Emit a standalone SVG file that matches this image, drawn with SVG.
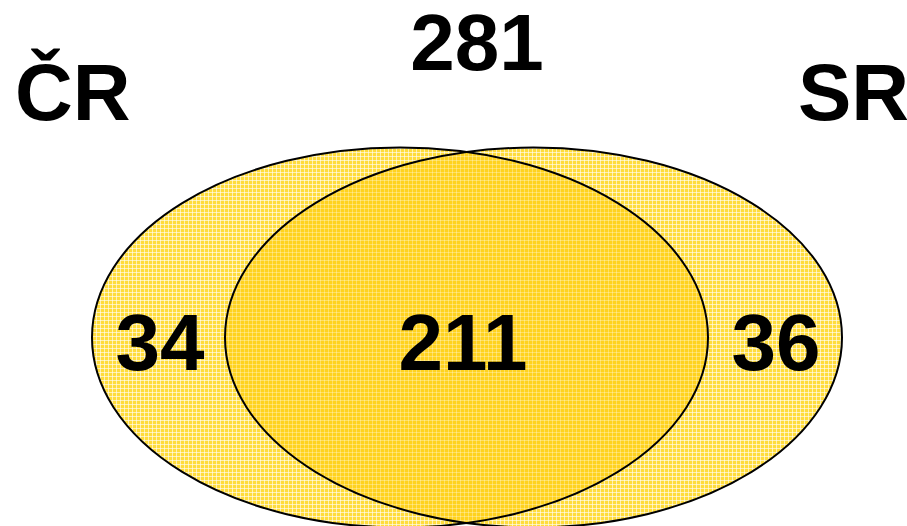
<svg xmlns="http://www.w3.org/2000/svg" width="907" height="526" viewBox="0 0 907 526">
  <style>
    .lbl { font-family: "Liberation Sans", Arial, sans-serif; font-weight: bold; font-size: 80px; fill: #000; }
    .outline { fill: none; stroke: #000; stroke-width: 2; }
  </style>
  <defs>
    <pattern id="light" width="4" height="4" patternUnits="userSpaceOnUse">
      <rect width="4" height="4" fill="#FFDC3C"/>
      <rect x="0" y="0" width="4" height="1" fill="#FFFFFF" opacity="0.6"/>
      <rect x="0" y="0" width="1" height="4" fill="#FFFFFF" opacity="0.6"/>
    </pattern>
    <pattern id="dark" width="4" height="4" patternUnits="userSpaceOnUse">
      <rect width="4" height="4" fill="#FFD21E"/>
      <rect x="0" y="0" width="4" height="1" fill="#FFFFFF" opacity="0.3"/>
      <rect x="0" y="0" width="1" height="4" fill="#FFFFFF" opacity="0.3"/>
    </pattern>
    <clipPath id="clipLeft">
      <ellipse cx="400" cy="337.5" rx="308" ry="190"/>
    </clipPath>
  </defs>
  <rect width="907" height="526" fill="#FFFFFF"/>
  <g id="cr-set">
    <ellipse cx="400" cy="337.5" rx="308" ry="190" fill="url(#light)"/>
  </g>
  <g id="sr-set">
    <ellipse cx="533.5" cy="337.5" rx="308.5" ry="190" fill="url(#light)"/>
  </g>
  <g id="intersection">
    <ellipse cx="533.5" cy="337.5" rx="308.5" ry="190" fill="url(#dark)" clip-path="url(#clipLeft)"/>
  </g>
  <g id="outlines">
    <ellipse class="outline" cx="400" cy="337.5" rx="308" ry="190"/>
    <ellipse class="outline" cx="533.5" cy="337.5" rx="308.5" ry="190"/>
  </g>
  <g id="labels">
    <text class="lbl" x="15" y="120">ČR</text>
    <text class="lbl" x="798" y="120">SR</text>
    <text class="lbl" x="477" y="70" text-anchor="middle">281</text>
    <text class="lbl" x="160" y="370" text-anchor="middle">34</text>
    <text class="lbl" x="463" y="370" text-anchor="middle">211</text>
    <text class="lbl" x="776" y="370" text-anchor="middle">36</text>
  </g>
</svg>
